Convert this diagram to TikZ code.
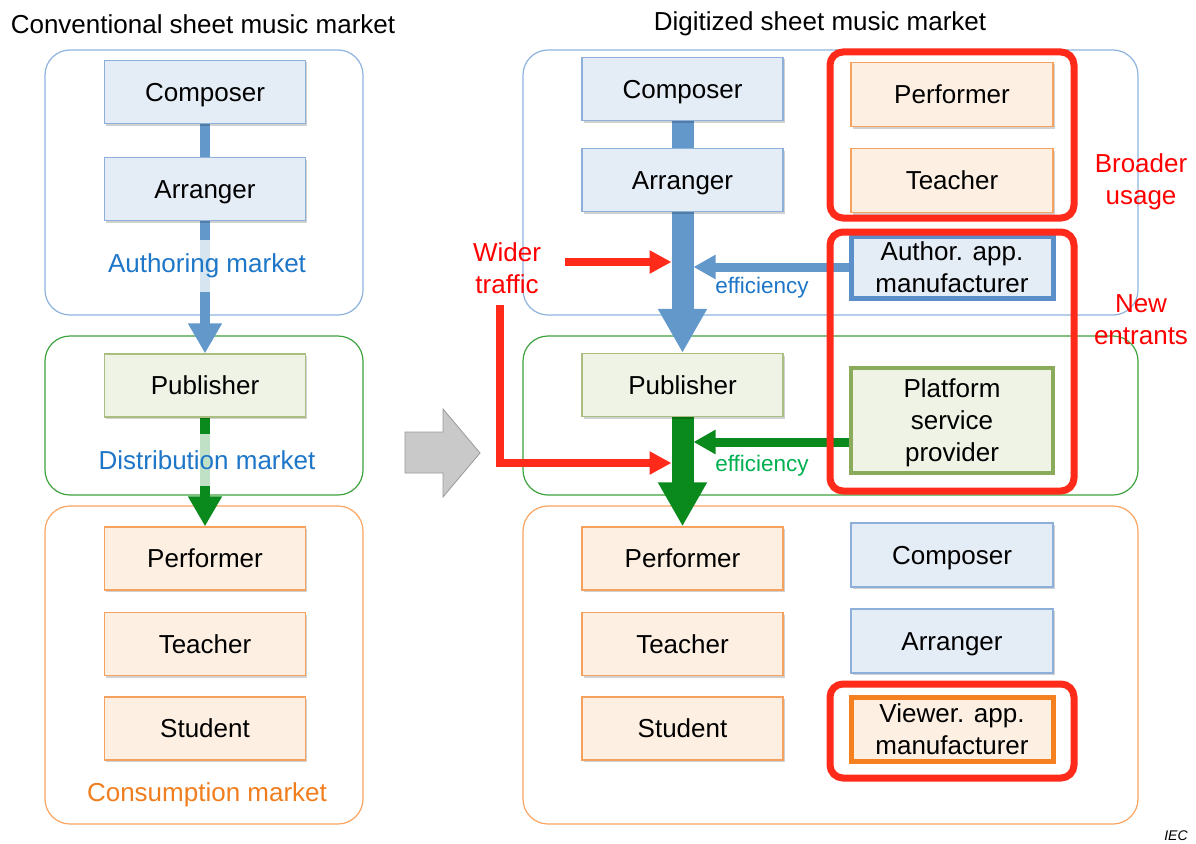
\documentclass[tikz,border=0pt]{standalone}
\usepackage{fontspec}
\setmainfont{Liberation Sans}
\usetikzlibrary{arrows.meta,shadows}
\definecolor{mblue}{HTML}{8DB3DD}
\definecolor{mgreen}{HTML}{3DA23D}
\definecolor{morange}{HTML}{F9A461}
\definecolor{bfill}{HTML}{E4ECF6}
\definecolor{bstroke}{HTML}{8CB0DA}
\definecolor{gfill}{HTML}{EFF3E5}
\definecolor{gstroke}{HTML}{A9BE80}
\definecolor{ofill}{HTML}{FDEFE2}
\definecolor{ostroke}{HTML}{F6A25E}
\definecolor{arrblue}{HTML}{6398CB}
\definecolor{arrgreen}{HTML}{0A8A1C}
\definecolor{myred}{HTML}{FF2A1A}
\definecolor{txtred}{HTML}{FF0000}
\definecolor{txtblue}{HTML}{1E76C8}
\definecolor{txtgreen}{HTML}{00B050}
\definecolor{txtorange}{HTML}{F07E1E}
\definecolor{thickblue}{HTML}{5B8FC9}
\definecolor{thickgreen}{HTML}{8AAB5A}
\definecolor{thickorange}{HTML}{F58020}
\definecolor{grayarr}{HTML}{C9C9C9}
\pgfdeclarelayer{bg}
\pgfdeclarelayer{arr}
\pgfsetlayers{bg,arr,main}
\begin{document}
\begin{tikzpicture}[x=1pt,y=-1pt,
  every node/.style={font=\fontsize{26}{32}\selectfont, inner sep=0pt, align=center},
  box/.style={rectangle, minimum width=201pt, minimum height=63pt, line width=1.2pt,
    drop shadow={shadow xshift=1.5pt, shadow yshift=-2pt, opacity=0.18, fill=black}},
  oneline/.style={text height=18.7pt, text depth=0pt},
  twoline/.style={text height=50.7pt, text depth=0pt},
  threeline/.style={text height=82.7pt, text depth=0pt},
  bbox/.style={box, oneline, fill=bfill, draw=bstroke},
  gbox/.style={box, oneline, fill=gfill, draw=gstroke},
  obox/.style={box, oneline, fill=ofill, draw=ostroke},
  market/.style={rectangle, rounded corners=25pt, line width=1.2pt},
  mlabel/.style={fill=white, fill opacity=0.75, text opacity=1, inner xsep=1pt, minimum height=52pt},
  bigarrow/.style={line width=22pt, -{Triangle[width=46pt,length=44pt]}},
  smallarrow/.style={line width=10pt, -{Triangle[width=32pt,length=30pt]}},
  effarrow/.style={line width=9pt, -{Triangle[width=23pt,length=22pt]}, shorten >=11pt},
  redarrow/.style={draw=myred, line width=7.5pt, line join=miter, -{Triangle[width=22pt,length=22pt]}, shorten >=11pt},
  redframe/.style={draw=myred, line width=7pt, rounded corners=13pt},
  eff/.style={font=\fontsize{22.5}{26}\selectfont},
]
\useasboundingbox (0,0) rectangle (1196,843);

% titles
\node (t1) at (203,24) {Conventional sheet music market};
\node (t2) at (820,24) {Digitized sheet music market};

% market boxes
\begin{pgfonlayer}{bg}
\node[market, draw=mblue, minimum width=318pt, minimum height=265pt] (lauth) at (204,182.5) {};
\node[market, draw=mgreen, minimum width=318pt, minimum height=159pt] (ldist) at (204,415.5) {};
\node[market, draw=morange, minimum width=318pt, minimum height=318pt] (lcons) at (204,665) {};
\node[market, draw=mblue, minimum width=615pt, minimum height=265pt] (rauthm) at (830.5,182.5) {};
\node[market, draw=mgreen, minimum width=615pt, minimum height=159pt] (rdist) at (830.5,415.5) {};
\node[market, draw=morange, minimum width=615pt, minimum height=318pt] (rcons) at (830.5,665) {};
\end{pgfonlayer}

% left column boxes
\node[bbox] (lcomp) at (205,92) {Composer};
\node[bbox] (larr) at (205,189) {Arranger};
\node[gbox] (lpub) at (205,385.5) {Publisher};
\node[obox] (lperf) at (205,558.5) {Performer};
\node[obox] (lteach) at (205,644) {Teacher};
\node[obox] (lstud) at (205,728.5) {Student};

% right column A
\node[bbox] (rcomp) at (682.5,89) {Composer};
\node[bbox] (rarr) at (682.5,180) {Arranger};
\node[gbox] (rpub) at (682.5,385) {Publisher};
\node[obox] (rperf) at (682.5,558.5) {Performer};
\node[obox] (rteach) at (682.5,644) {Teacher};
\node[obox] (rstud) at (682.5,728.5) {Student};

% right column B
\node[obox, minimum width=202pt, minimum height=64pt] (rperf2) at (952,94.5) {Performer};
\node[obox, minimum width=202pt, minimum height=64pt] (rteach2) at (952,180.5) {Teacher};
\node[box, twoline, fill=bfill, draw=thickblue, line width=5pt, minimum width=202pt, minimum height=62pt] (rauth) at (952,267) {Author. app.\\manufacturer};
\node[box, threeline, fill=gfill, draw=thickgreen, line width=3.5pt, minimum width=202pt, minimum height=105pt] (rplat) at (952,420.5) {Platform\\service\\provider};
\node[bbox, minimum width=202pt, minimum height=64pt] (rcomp2) at (952,555) {Composer};
\node[bbox, minimum width=202pt, minimum height=64pt] (rarr2) at (952,641) {Arranger};
\node[box, twoline, fill=ofill, draw=thickorange, line width=5pt, minimum width=202pt, minimum height=64pt] (rview) at (952,729) {Viewer. app.\\manufacturer};

% arrows
\coordinate (wt1) at (565,262);
\coordinate (wt2) at (500,305);
\coordinate (wt3) at (500,463);
\begin{pgfonlayer}{arr}
\draw[smallarrow, draw=arrblue] (lcomp.south) -- (lpub.north);
\draw[smallarrow, draw=arrgreen] (lpub.south) -- (lperf.north);
\draw[bigarrow, draw=arrblue] (rcomp.south) -- (rpub.north);
\draw[bigarrow, draw=arrgreen] (rpub.south) -- (rperf.north);
\draw[effarrow, draw=arrblue] (rauth.west) -- (rauth.west -| rcomp.south);
\draw[effarrow, draw=arrgreen] (rplat.west |- 0,442) -- (rcomp.south |- 0,442);
\end{pgfonlayer}
\draw[redarrow] (wt1) -- (wt1 -| rcomp.south);
\draw[redarrow] (wt2) -- (wt3) -- (wt3 -| rpub.south);

% gray transition arrow
\draw[fill=grayarr, draw=gray!80, line width=0.8pt] (405,432) -- (443,432) -- (443,409) -- (480,453) -- (443,497) -- (443,473) -- (405,473) -- cycle;

% market labels
\node[mlabel, text=txtblue] (lab1) at (207,266) {Authoring market};
\node[mlabel, text=txtblue] (lab2) at (207,460) {Distribution market};
\node[text=txtorange] (lab3) at (207,795) {Consumption market};
\node[eff, text=txtblue] (eff1) at (762,288) {efficiency};
\node[eff, text=txtgreen] (eff2) at (762,466) {efficiency};

% red frames
\draw[redframe] (830,52) rectangle (1074,218);
\draw[redframe] (830,232) rectangle (1074,491);
\draw[redframe] (830,684) rectangle (1074,778);

% red labels
\node[text=txtred] (bu) at (1141,182) {Broader\\usage};
\node[text=txtred] (ne) at (1141,320) {New\\entrants};
\node[text=txtred] (wt) at (507,268) {Wider\\traffic};

\node[font=\fontsize{14}{16}\selectfont\itshape] (iec) at (1176,836) {IEC};
\end{tikzpicture}
\end{document}
